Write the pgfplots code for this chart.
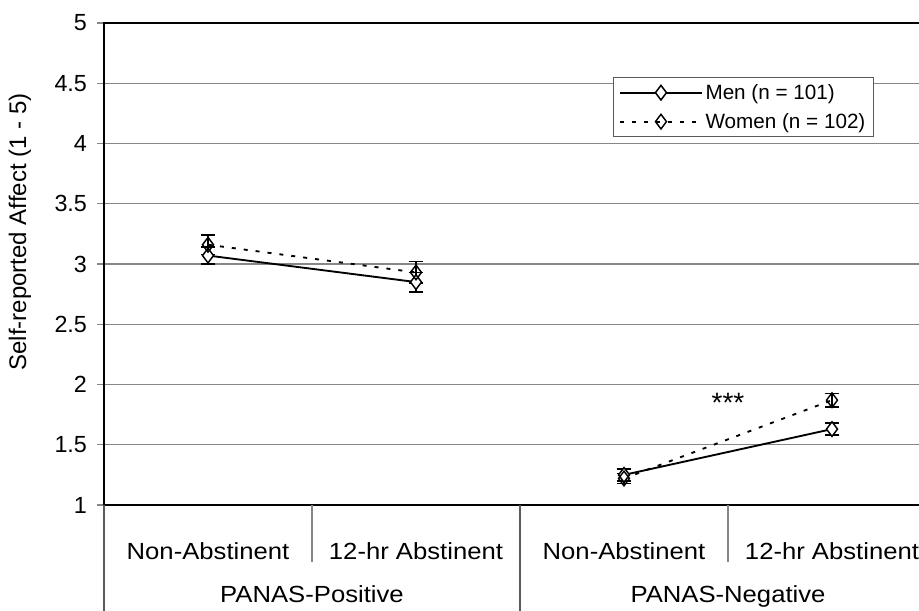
\documentclass[border=0pt]{standalone}
\usepackage{fontspec}
\setmainfont{Liberation Sans}
\usepackage{graphicx}
\usepackage{pgfplots}
\pgfplotsset{compat=1.18}
\definecolor{gridgray}{RGB}{135,135,135}
\definecolor{divgray}{RGB}{90,90,90}
\newcommand{\wide}[1]{\scalebox{1.1}[1]{#1}}
\begin{document}
\begin{tikzpicture}[font=\fontsize{17.5}{21}\selectfont]
\useasboundingbox (0,0) rectangle (689.25pt,457.5pt);
\clip (0,0) rectangle (689.25pt,457.5pt);
\begin{axis}[
  at={(78pt,78.75pt)}, anchor=south west,
  scale only axis, width=624pt, height=361.5pt,
  xmin=-0.5, xmax=3.5, ymin=1, ymax=5,
  clip=false,
  /pgf/number format/assume math mode=true,
  ytick={1,1.5,2,2.5,3,3.5,4,4.5,5},
  yticklabels={1,1.5,2,2.5,3,3.5,4,4.5,5},
  yticklabel style={xshift=-4pt},
  y tick style={gridgray, line width=0.8pt},
  tick align=outside, major tick length=5.25pt,
  xtick={0,1,2,3},
  xticklabels={\wide{Non-Abstinent},\wide{12-hr Abstinent},\wide{Non-Abstinent},\wide{12-hr Abstinent}},
  xticklabel style={anchor=base, yshift=-35.25pt},
  x tick style={draw=none},
  ymajorgrids, grid style={gridgray, line width=1pt},
  axis line style={black, line width=1.2pt},
  legend style={at={(0.612,0.888)}, anchor=north west, draw=divgray, line width=0.8pt,
    font=\fontsize{15.5}{19}\selectfont, inner xsep=4pt, inner ysep=3pt, row sep=5pt},
  legend cell align=left,
  legend image code/.code={
    \draw[mark repeat=2,mark phase=2,#1] plot coordinates {(0cm,0cm) (1.08cm,0cm) (2.16cm,0cm)};
  },
]
% Men
\addplot[black, line width=1.4pt, mark=diamond*, mark options={solid, fill=white, mark size=5.5pt, line width=1.1pt},
  error bars/.cd, y dir=both, y explicit,
  error bar style={line width=1.2pt, solid},
  error mark options={rotate=90, mark size=5.6pt, line width=1.2pt, solid}]
  coordinates {(0,3.07) +- (0,0.07) (1,2.85) +- (0,0.08)};
\addlegendentry{Men (n = 101)}
% Women
\addplot[black, line width=1.4pt, dash pattern=on 3pt off 6pt, mark=diamond, mark options={solid, mark size=5.5pt, line width=1.1pt},
  error bars/.cd, y dir=both, y explicit,
  error bar style={line width=1.2pt, solid},
  error mark options={rotate=90, mark size=5.6pt, line width=1.2pt, solid}]
  coordinates {(0,3.16) +- (0,0.08) (1,2.93) +- (0,0.09)};
\addlegendentry{Women (n = 102)}
\addplot[forget plot, black, line width=1.4pt, mark=diamond*, mark options={solid, fill=white, mark size=5.5pt, line width=1.1pt},
  error bars/.cd, y dir=both, y explicit,
  error bar style={line width=1.2pt, solid},
  error mark options={rotate=90, mark size=5.6pt, line width=1.2pt, solid}]
  coordinates {(2,1.25) +- (0,0.05) (3,1.63) +- (0,0.05)};
\addplot[forget plot, black, line width=1.4pt, dash pattern=on 3pt off 6pt, mark=diamond, mark options={solid, mark size=5.5pt, line width=1.1pt},
  error bars/.cd, y dir=both, y explicit,
  error bar style={line width=1.2pt, solid},
  error mark options={rotate=90, mark size=5.6pt, line width=1.2pt, solid}]
  coordinates {(2,1.22) +- (0,0.04) (3,1.87) +- (0,0.055)};
\node[font=\fontsize{21}{24}\selectfont, yshift=-5pt] at (axis cs:2.5,1.9) {***};
% category table below the axis
\draw[gridgray, line width=1pt] (axis cs:0.5,1) -- (axis cs:0.5,0.527);
\draw[gridgray, line width=1pt] (axis cs:2.5,1) -- (axis cs:2.5,0.527);
\draw[divgray, line width=1pt] (axis cs:1.5,1) -- (axis cs:1.5,0);
\draw[divgray, line width=1pt] (axis cs:-0.5,1) -- (axis cs:-0.5,0);
\node[anchor=base] at (axis cs:0.5,0.19) {\wide{PANAS-Positive}};
\node[anchor=base] at (axis cs:2.5,0.19) {\wide{PANAS-Negative}};
\end{axis}
\node[rotate=90, font=\fontsize{18}{21}\selectfont] at (15pt,283.5pt) {Self-reported Affect (1 - 5)};
\end{tikzpicture}
\end{document}
